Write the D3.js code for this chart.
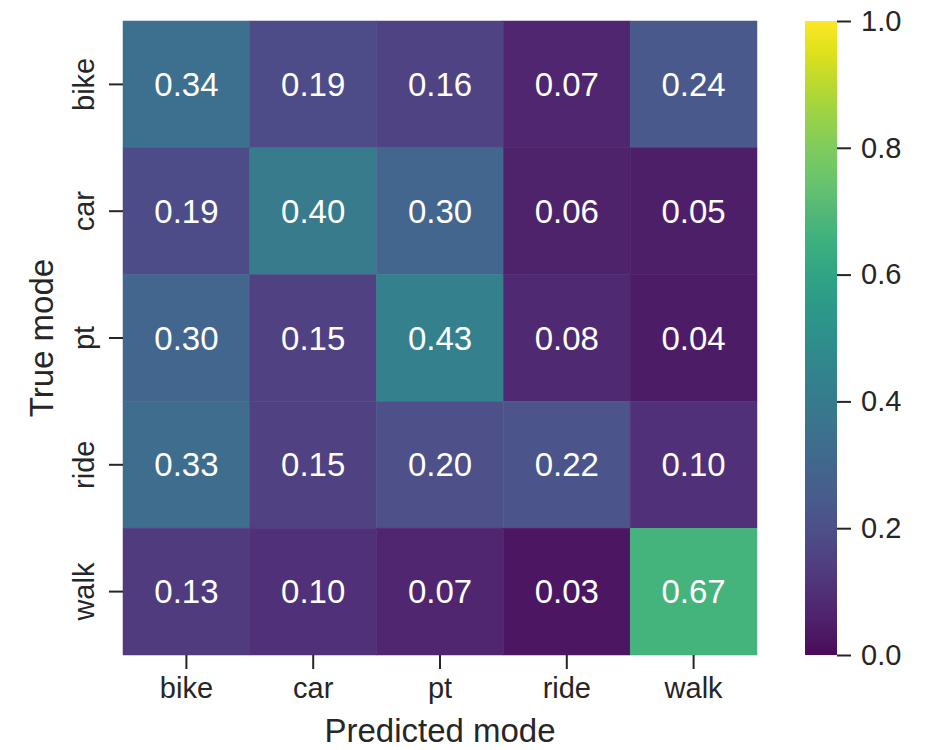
<!DOCTYPE html>
<html>
<head>
<meta charset="utf-8">
<script src="https://cdn.jsdelivr.net/npm/d3@7"></script>
<style>
  html, body { margin: 0; padding: 0; background: #fff; }
  svg { display: block; font-family: "Liberation Sans", Arial, Helvetica, sans-serif; }
</style>
</head>
<body>
<svg id="chart" width="932" height="750"></svg>
<script>
const predictedModes = ["bike", "car", "pt", "ride", "walk"];
const trueModes = ["bike", "car", "pt", "ride", "walk"];
const rowBike = [0.34, 0.19, 0.16, 0.07, 0.24];
const rowCar  = [0.19, 0.40, 0.30, 0.06, 0.05];
const rowPt   = [0.30, 0.15, 0.43, 0.08, 0.04];
const rowRide = [0.33, 0.15, 0.20, 0.22, 0.10];
const rowWalk = [0.13, 0.10, 0.07, 0.03, 0.67];
const colorbarTicks = [0.0, 0.2, 0.4, 0.6, 0.8, 1.0];
const xLabel = "Predicted mode";
const yLabel = "True mode";

const rows = [rowBike, rowCar, rowPt, rowRide, rowWalk];
const cells = [];
rows.forEach((r, i) => r.forEach((v, j) => cells.push({ t: trueModes[i], p: predictedModes[j], v })));

const svg = d3.select("#chart");
const ink = "#262626";
const plot = { left: 123, right: 757, top: 21, bottom: 655 };

const x = d3.scaleBand().domain(predictedModes).range([plot.left, plot.right]);
const y = d3.scaleBand().domain(trueModes).range([plot.top, plot.bottom]);
// viridis, slightly muted (less so toward yellow) to match the reference rendering
const mute = t => {
  const h = d3.hsl(d3.interpolateViridis(t));
  h.s *= 0.8 + 0.2 * Math.pow(t, 4);
  h.l = Math.min(1, h.l + 0.03 * (1 - t * t));
  return h.formatHex();
};
const color = d3.scaleSequential(mute).domain([0, 1]);

// cells
svg.append("g").selectAll("rect").data(cells).join("rect")
  .attr("x", d => x(d.p)).attr("y", d => y(d.t))
  .attr("width", x.bandwidth()).attr("height", y.bandwidth())
  .attr("fill", d => color(d.v))
  .attr("stroke", d => color(d.v)).attr("stroke-width", 0.5);

// annotations
svg.append("g").selectAll("text").data(cells).join("text")
  .attr("x", d => x(d.p) + x.bandwidth() / 2)
  .attr("y", d => y(d.t) + y.bandwidth() / 2)
  .attr("text-anchor", "middle").attr("dominant-baseline", "central")
  .attr("fill", "#fff").attr("font-size", 33)
  .text(d => d.v.toFixed(2));

// x axis
const xAxis = svg.append("g").attr("transform", `translate(0,${plot.bottom})`)
  .call(d3.axisBottom(x).tickSize(14).tickPadding(8));
xAxis.select(".domain").remove();
xAxis.selectAll(".tick line").attr("stroke", ink).attr("stroke-width", 2);
xAxis.selectAll(".tick text").attr("fill", ink).attr("font-size", 29)
  .attr("font-family", "Liberation Sans, Arial, sans-serif");

// y axis
const yAxis = svg.append("g").attr("transform", `translate(${plot.left},0)`)
  .call(d3.axisLeft(y).tickSize(14).tickPadding(8));
yAxis.select(".domain").remove();
yAxis.selectAll(".tick line").attr("stroke", ink).attr("stroke-width", 2);
yAxis.selectAll(".tick text").attr("fill", ink).attr("font-size", 29)
  .attr("font-family", "Liberation Sans, Arial, sans-serif")
  .attr("text-anchor", "middle").attr("dy", null)
  .attr("dominant-baseline", "central")
  .attr("x", -39).attr("transform", "rotate(-90,-39,0)");

// axis labels
svg.append("text").attr("x", (plot.left + plot.right) / 2).attr("y", 742)
  .attr("text-anchor", "middle").attr("fill", ink).attr("font-size", 33).text(xLabel);
svg.append("text").attr("transform", `translate(53,${(plot.top + plot.bottom) / 2}) rotate(-90)`)
  .attr("text-anchor", "middle").attr("fill", ink).attr("font-size", 33).text(yLabel);

// colorbar
const cb = { left: 805, width: 32, top: 21, bottom: 655 };
const defs = svg.append("defs");
const grad = defs.append("linearGradient").attr("id", "cbgrad")
  .attr("x1", 0).attr("y1", 1).attr("x2", 0).attr("y2", 0);
d3.range(0, 1.0001, 0.05).forEach(t => {
  grad.append("stop").attr("offset", t).attr("stop-color", color(t));
});
svg.append("rect").attr("x", cb.left).attr("y", cb.top)
  .attr("width", cb.width).attr("height", cb.bottom - cb.top)
  .attr("fill", "url(#cbgrad)");
const cbScale = d3.scaleLinear().domain([0, 1]).range([cb.bottom, cb.top]);
const cbAxis = svg.append("g").attr("transform", `translate(${cb.left + cb.width},0)`)
  .call(d3.axisRight(cbScale).tickValues(colorbarTicks).tickFormat(d3.format(".1f")).tickSize(14).tickPadding(10));
cbAxis.select(".domain").remove();
cbAxis.selectAll(".tick line").attr("stroke", ink).attr("stroke-width", 2);
cbAxis.selectAll(".tick text").attr("fill", ink).attr("font-size", 29)
  .attr("font-family", "Liberation Sans, Arial, sans-serif");
</script>
</body>
</html>
